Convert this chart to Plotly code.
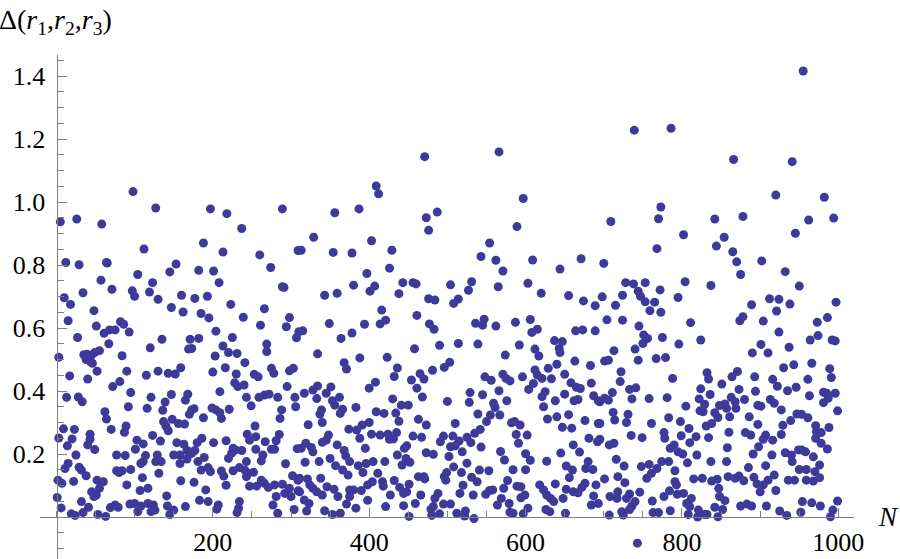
import plotly.graph_objects as go

# Colours and font
azul = "#3d3a9a"
cinza = "#7f7f7f"
fonte = "Liberation Serif"

# Points, left to right by region: N and Delta
n_left = [10, 18, 15, 27, 3, 34, 48, 71, 57, 51, 61, 68, 75, 82, 86, 93, 97, 100, 119, 123, 130, 147, 160, 162, 177, 193, 185, 195, 208, 223, 239, 266, 261, 289, 291, 298, 294, 307, 310,
          135, 120, 67, 55, 49, 35, 39, 45, 38, 43, 46, 84, 90, 52, 40, 17, 115, 130, 143, 152, 159, 169, 173, 171, 182, 204, 203, 213, 225, 220, 231, 241, 216, 200, 230, 253, 258, 269, 269, 275, 278, 303, 298, 295,
          72, 81, 95, 13, 28, 33, 121, 116, 92, 147, 139, 136, 168, 165, 176, 173, 170, 199, 204, 209, 209, 221, 228, 232, 240, 243, 249, 259, 266, 272, 283, 288, 286, 305, 306,
          62, 64, 9, 23, 3, 20, 14, 25, 43, 43, 40, 49, 70, 89, 87, 103, 111, 101, 123, 133, 137, 140, 143, 148, 156, 164, 188, 211, 254, 244, 247, 255, 267, 285, 281, 275, 279, 308, 255, 217, 201, 186, 180, 154, 163, 167, 177, 173, 150, 158, 158, 167, 189, 181, 226, 229, 237, 224, 220, 264, 262, 293, 243, 114, 111, 108, 129, 127, 134, 77, 88, 15, 11,
          29, 32, 38, 77, 84, 80, 95, 110, 131, 185, 194, 197, 211, 214, 226, 234, 241, 245, 252, 243, 302, 309,
          2, 7, 22, 52, 60, 90, 159, 176, 217, 247, 256, 262, 266, 271, 279, 289, 298, 309, 292, 281, 300,
          45, 55, 51, 48, 107, 117, 191, 141, 1,
          6, 32, 41, 19, 24, 34, 53, 63, 69, 75, 79, 94, 100, 104, 108, 117, 124, 121, 126, 142, 150, 145, 165, 183, 194, 207, 205, 234, 233, 231, 277, 283, 304,
          98, 127, 197, 218, 289, 5, 26, 58, 237, 112, 188, 213, 260, 309, 274, 12, 29, 64, 65, 153, 145, 104, 182, 201]
delta_left = [.696, .675, .623, .570, .507, .712, .655, .723, .752, .606, .583, .594, .594, .620, .612, .587, .718, .701, .714, .744, .691, .665, .704, .651, .694, .701, .646, .632, .744, .675, .634, .661, .609, .731, .729, .633, .604, .569, .588,
              .564, .537, .550, .528, .522, .515, .517, .514, .500, .494, .488, .512, .463, .463, .438, .448, .450, .463, .456, .454, .474, .533, .535, .564, .567, .590, .511, .543, .570, .522, .519, .490, .474, .460, .454, .453, .445, .549, .525, .472, .456, .472, .464, .414,
              .414, .430, .395, .380, .381, .366, .380, .345, .350, .389, .365, .339, .390, .371, .344, .340, .326, .346, .340, .331, .398, .342, .426, .414, .419, .380, .353, .380, .387, .390, .380, .340, .313, .380, .350,
              .334, .311, .280, .278, .251, .248, .226, .197, .263, .247, .229, .214, .278, .289, .269, .244, .232, .215, .259, .241, .303, .289, .274, .310, .297, .295, .315, .313, .289, .263, .244, .255, .239, .262, .242, .215, .215, .217, .215, .242, .236, .250, .236, .236, .231, .211, .211, .202, .197, .197, .170, .184, .189, .176, .218, .213, .211, .202, .186, .197, .178, .169, .176, .195, .176, .170, .197, .176, .176, .197, .195, .170, .154,
              .158, .149, .131, .147, .147, .141, .151, .125, .139, .149, .157, .144, .146, .130, .147, .157, .149, .139, .142, .128, .131, .117,
              .117, .107, .113, .117, .112, .102, .115, .110, .101, .098, .098, .117, .107, .094, .102, .104, .091, .083, .075, .065, .065,
              .080, .091, .070, .065, .084, .091, .086, .067, .062,
              .029, .049, .031, .010, .005, .014, .008, .002, .030, .038, .031, .041, .043, .017, .035, .043, .038, .017, .022, .035, .022, .008, .033, .053, .049, .038, .025, .049, .028, .014, .038, .012, .024,
              1.033, .981, .978, .963, .978, .937, .946, .930, .916, .851, .870, .841, .832, .846, .792, .808, .801, .808, .806, .803, .778, .770, .783, .781]

n_mid = [380, 407, 401, 443, 456, 460, 504, 531, 527, 565, 603, 620, 343, 359, 438, 476, 484, 514, 508, 655, 674, 689, 416, 461, 349, 394, 414, 421, 477, 483, 536, 547, 545, 562, 587, 606, 615, 608, 664, 673, 689, 315, 378, 364,
         514, 539, 490, 458, 592, 637, 647, 643, 644, 612, 617, 574, 334, 388, 423, 368, 371, 436, 503, 496, 481, 465, 470, 454, 432, 408, 400, 461, 468, 548, 556, 571, 580, 575, 596, 663, 683, 640, 629, 612, 615, 621, 633, 650, 658, 684, 610, 604, 625, 621, 665, 670, 650, 687, 693, 638, 667, 662,
         566, 545, 529, 528, 500, 576, 430, 441, 450, 383, 362, 351, 334, 328, 317, 333, 345, 353, 356, 366, 363, 339, 337, 409, 419, 434, 438, 463, 473, 510, 539, 559, 561, 567, 555, 550, 542, 535, 623, 640, 655, 628, 676, 693, 582, 586, 593, 588, 602, 591, 647, 659, 681, 692, 661, 669, 645, 600, 606, 627, 568, 573, 543, 519, 502, 525, 508, 518, 541, 553, 584, 600, 652, 660, 680, 677, 686, 656,
         322, 340, 374, 400, 391, 384, 388, 348, 345, 340, 359, 319, 313, 326, 328, 368, 370, 375, 395, 403, 414, 424, 426, 431, 435, 456, 467, 448, 445, 495, 491, 507, 515, 510, 504, 525, 530, 473, 482, 436, 447, 442, 452, 420, 405, 396, 386, 392, 318, 336, 350, 357, 366, 373, 411,
         432, 417, 404, 398, 418, 439, 451, 444, 448, 463, 470, 471, 499, 496, 498, 531, 538, 520, 516, 533, 549, 554, 558, 572, 577, 589, 594, 599, 594, 618, 623, 627, 632, 636, 638, 648, 652, 661, 667, 676, 672, 690, 687, 684, 693,
         311, 321, 338, 324, 328, 333, 346, 355, 360, 340, 311, 317, 323, 320, 343, 363, 353, 375, 380, 390, 375, 371, 383, 398, 421, 427, 444, 459, 466, 482, 479, 484, 488, 495, 504, 490, 480, 451, 512, 523, 522, 534, 564, 569, 579, 580, 584, 597, 603, 626, 631, 651,
         566, 471, 597, 409, 412, 387, 356, 487, 473, 476, 589, 329, 403, 554, 313, 354, 378, 429, 543, 562, 609, 571, 671, 644, 426, 397]
delta_mid = [.736, .733, .717, .744, .744, .740, .737, .747, .720, .731, .742, .710, .704, .710, .709, .693, .689, .692, .678, .703, .686, .671, .657, .640, .614, .612, .613, .625, .613, .596, .615, .628, .609, .606, .618, .627, .596, .586, .591, .594, .591, .591, .584, .567,
             .551, .549, .545, .534, .546, .560, .557, .535, .522, .533, .511, .514, .518, .505, .507, .490, .470, .473, .491, .475, .466, .455, .438, .435, .446, .428, .409, .409, .381, .445, .434, .453, .432, .440, .445, .495, .481, .485, .472, .467, .451, .440, .439, .453, .426, .425, .424, .405, .398, .382, .412, .408, .390, .385, .369, .369, .373, .369,
             .401, .388, .395, .364, .367, .369, .375, .355, .355, .348, .380, .413, .416, .403, .393, .376, .393, .369, .355, .342, .329, .340, .327, .334, .329, .330, .304, .310, .292, .297, .327, .361, .348, .324, .324, .303, .278, .266, .350, .318, .325, .311, .306, .297, .299, .303, .292, .262, .260, .234, .285, .282, .250, .239, .229, .206, .203, .201, .180, .177, .208, .181, .222, .207, .192, .171, .159, .141, .149, .147, .150, .150, .162, .149, .176, .154, .151, .125,
             .293, .300, .279, .300, .292, .276, .250, .260, .244, .237, .229, .234, .218, .221, .207, .211, .194, .176, .218, .263, .260, .263, .247, .248, .268, .257, .253, .226, .218, .257, .239, .257, .241, .226, .223, .253, .236, .204, .199, .197, .186, .165, .174, .176, .176, .170, .163, .141, .174, .176, .186, .163, .149, .133, .139,
             .116, .112, .112, .102, .098, .094, .104, .075, .080, .128, .128, .121, .141, .128, .117, .126, .112, .101, .075, .070, .072, .084, .086, .091, .116, .098, .096, .070, .061, .102, .086, .070, .059, .049, .105, .059, .088, .080, .077, .107, .094, .102, .067, .038, .043,
             .123, .121, .123, .102, .091, .080, .096, .088, .065, .070, .080, .054, .043, .019, .020, .012, .008, .086, .086, .084, .065, .041, .028, .053, .033, .070, .036, .043, .070, .033, .025, .059, .075, .041, .041, .010, .005, .002, .012, .019, .003, -.005, .038, .059, .043, .015, .012, .010, .028, .024, .017, .012,
             1.159, 1.144, 1.011, 1.051, 1.026, .978, .966, .968, .950, .910, .922, .888, .877, .870, .847, .840, .838, .847, .827, .815, .816, .781, .820, .787, .790, .773]

n_right = [955, 739, 786, 866, 941, 920, 982, 773, 770, 709, 842, 878, 962, 994, 945, 802, 854, 844, 768, 865, 870, 902, 700, 932, 875,
           728, 738, 753, 804, 837, 950, 744, 724, 772, 698, 795, 747, 753, 765, 715, 759, 773, 889, 912, 924, 938, 921, 997, 986, 973, 704, 724, 811, 878, 874, 904, 745, 924, 751, 756, 750, 775, 824, 796, 974, 964, 992, 996, 901, 937, 890, 910, 713, 740,
           701, 706, 744, 767, 779, 966, 943, 930, 989, 722, 832, 871, 834, 864, 893, 991, 961, 916, 721, 788, 851, 922, 946, 935, 824, 733, 741, 873, 894, 711, 701, 706, 695, 736, 758, 781, 822, 836, 963, 981, 985, 996, 987, 981, 913, 918, 880,
           805, 829, 848, 855, 863, 868, 857, 869, 897, 901, 927, 999, 947, 953, 961, 712, 714, 731, 729, 695, 783, 761, 798, 823, 827, 842, 846, 838, 831, 861, 886, 897, 929, 939, 971, 988, 809, 777, 778, 735, 749, 799, 818, 810, 860, 881, 888, 907, 904, 916, 927, 972, 978, 971, 834, 695, 707, 713, 978, 986, 898, 858, 891, 915, 932, 940, 949, 953, 958, 968, 941, 785, 790, 795, 801, 819,
           716, 726, 748, 758, 768, 774, 783, 807, 837, 857, 885, 907, 976, 950, 959, 970, 761, 755, 791, 701, 718, 727, 791, 793, 815, 826, 838, 845, 859, 868, 873, 879, 892, 918, 910, 904, 896, 936, 944, 959, 968, 976, 847, 920, 900, 746, 718,
           708, 717, 733, 729, 740, 736, 733, 762, 777, 784, 794, 802, 812, 806, 810, 848, 855, 842, 852, 875, 883, 889, 908, 954, 966, 977, 999, 993, 990, 952, 925, 934, 723, 725, 707, 763, 770, 785, 808, 821, 820, 829, 832, 846, 743]
delta_right = [1.416, 1.228, 1.234, 1.135, 1.128, 1.022, 1.015, .984, .947, .938, .946, .954, .943, .949, .901, .896, .888, .860, .852, .842, .810, .813, .805, .779, .770,
               .744, .740, .744, .747, .735, .733, .717, .704, .721, .699, .697, .701, .683, .682, .672, .655, .650, .674, .693, .691, .676, .654, .682, .633, .618, .626, .625, .617, .636, .623, .622, .606, .587, .578, .567, .551, .570, .562, .549, .576, .562, .562, .559, .548, .539, .521, .521, .528, .533,
               .495, .498, .498, .503, .506, .488, .483, .474, .471, .461, .458, .462, .438, .445, .445, .443, .437, .437, .430, .440, .422, .415, .412, .401, .407, .405, .410, .405, .399, .395, .377, .371, .366, .375, .376, .379, .375, .389, .385, .396, .393, .393, .377, .363, .373, .361, .373,
               .352, .358, .354, .359, .380, .366, .345, .345, .355, .352, .340, .337, .327, .326, .315, .332, .308, .326, .300, .297, .315, .297, .303, .337, .334, .331, .316, .297, .289, .318, .318, .294, .291, .306, .290, .284, .281, .268, .250, .259, .252, .258, .255, .236, .269, .268, .260, .260, .247, .244, .262, .271, .268, .250, .252, .247, .229, .234, .234, .216, .223, .220, .200, .197, .204, .197, .213, .213, .207, .191, .176, .218, .229, .207, .200, .197,
               .183, .162, .160, .167, .154, .176, .176, .172, .176, .176, .157, .163, .165, .151, .151, .144, .139, .123, .147, .121, .128, .109, .112, .102, .121, .123, .114, .120, .128, .123, .130, .115, .126, .133, .117, .102, .105, .117, .117, .117, .114, .125, .091, .084, .080, .079, .080,
               .065, .059, .073, .059, .049, .035, .024, .051, .065, .083, .072, .075, .059, .043, .033, .065, .052, .031, .024, .035, .041, .035, .035, .049, .045, .035, .051, .022, .001, .015, .019, .005, .017, .006, .006, .014, .014, .020, .008, .022, .000, .008, .008, .001, -.083]

n_valores = n_left + n_mid + n_right
delta_valores = delta_left + delta_mid + delta_right

x_ticks = [200, 400, 600, 800, 1000]
y_ticks = [0.2, 0.4, 0.6, 0.8, 1.0, 1.2, 1.4]
y_labels = ["0.2", "0.4", "0.6", "0.8", "1.0", "1.2", "1.4"]

fig = go.Figure(go.Scatter(
    x=n_valores,
    y=delta_valores,
    mode="markers",
    marker=dict(color=azul, size=9, line=dict(width=0)),
    cliponaxis=False,
))

fig.update_layout(
    width=900,
    height=559,
    margin=dict(l=0, r=0, t=0, b=0, pad=0),
    paper_bgcolor="white",
    plot_bgcolor="white",
    showlegend=False,
    font=dict(family=fonte, color="black", size=26),
    xaxis=dict(
        domain=[40 / 900, 854 / 900],
        range=[-21, 1020],
        anchor="free",
        position=42 / 559,
        automargin=False,
        showgrid=False,
        zeroline=False,
        showline=True,
        linecolor=cinza,
        linewidth=1,
        tickmode="array",
        tickvals=x_ticks,
        ticks="inside",
        ticklen=9,
        tickcolor=cinza,
        ticklabelposition="outside",
        ticklabelstandoff=2,
        minor=dict(dtick=50, tick0=0, ticks="inside", ticklen=6, tickcolor=cinza, showgrid=False),
    ),
    yaxis=dict(
        domain=[0, 504 / 559],
        range=[-0.1333, 1.4667],
        anchor="free",
        position=56.5 / 900,
        automargin=False,
        showgrid=False,
        zeroline=False,
        showline=True,
        linecolor=cinza,
        linewidth=1,
        tickmode="array",
        tickvals=y_ticks,
        ticktext=y_labels,
        ticks="inside",
        ticklen=9,
        tickcolor=cinza,
        ticklabelstandoff=6,
        minor=dict(dtick=0.05, tick0=0, ticks="inside", ticklen=6, tickcolor=cinza, showgrid=False),
    ),
    annotations=[
        dict(
            text="Δ(<i>r</i><sub>1</sub>,<i>r</i><sub>2</sub>,<i>r</i><sub>3</sub>)",
            xref="paper", yref="paper", x=0, y=1 - 21 / 559,
            xanchor="left", yanchor="middle", showarrow=False, xshift=-3,
            font=dict(family=fonte, size=28, color="black"),
        ),
        dict(
            text="<i>N</i>",
            xref="paper", yref="paper", x=888 / 900, y=42 / 559,
            xanchor="center", yanchor="middle", showarrow=False,
            font=dict(family=fonte, size=27, color="black"),
        ),
    ],
)

# the page's default body margin would push the figure 8px in
fig.write_html("out.html", config=dict(displayModeBar=False), post_script="document.body.style.margin='0';")
